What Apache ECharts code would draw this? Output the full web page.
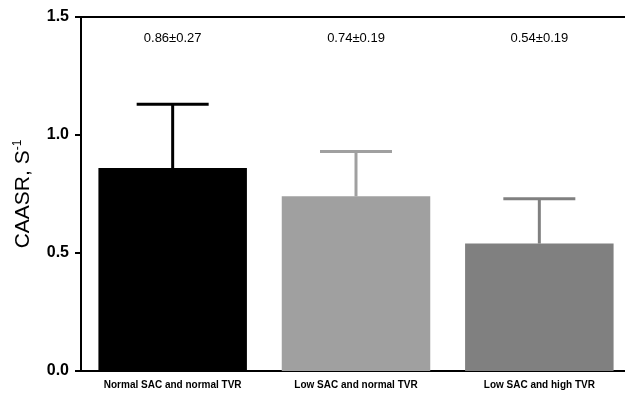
<!DOCTYPE html>
<html>
<head>
<meta charset="utf-8">
<script src="https://cdn.jsdelivr.net/npm/echarts@6/dist/echarts.min.js"></script>
<style>
html,body{margin:0;padding:0;background:#fff;}
#chart{width:625px;height:399px;}
</style>
</head>
<body>
<div id="chart"></div>
<script>
// 数据
var categories = ['Normal SAC and normal TVR', 'Low SAC and normal TVR', 'Low SAC and high TVR'];
var means = [0.86, 0.74, 0.54];
var sds = [0.27, 0.19, 0.19];
var labels = ['0.86±0.27', '0.74±0.19', '0.54±0.19'];
var barColors = ['#000000', '#a0a0a0', '#808080'];
var labelY = 1.41;

var myChart = echarts.init(document.getElementById('chart'));

var barData = means.map(function (v, i) {
  return { value: v, itemStyle: { color: barColors[i] } };
});
var errData = means.map(function (v, i) { return [i, v, v + sds[i]]; });
var textData = labels.map(function (t, i) { return [i, labelY, t]; });

var option = {
  animation: false,
  grid: { left: 81, right: -6, top: 17, bottom: 28, outerBoundsMode: 'none' },
  xAxis: [{
    type: 'category',
    data: categories,
    axisLine: { lineStyle: { color: '#000', width: 2 } },
    axisTick: { alignWithLabel: true, length: 5, lineStyle: { color: '#000', width: 2 } },
    axisLabel: { color: '#000', fontSize: 10, fontWeight: 'bold', fontFamily: 'Liberation Sans', margin: 9 }
  }, {
    type: 'category',
    position: 'top',
    data: categories,
    axisLine: { lineStyle: { color: '#000', width: 2 } },
    axisTick: { show: false },
    axisLabel: { show: false }
  }],
  yAxis: {
    type: 'value',
    min: 0, max: 1.5, interval: 0.5,
    name: '{a|CAASR, S}{b|-1}',
    nameLocation: 'middle',
    nameGap: 47,
    nameTextStyle: {
      rich: {
        a: { fontSize: 21, color: '#000', fontFamily: 'Liberation Sans' },
        b: { fontSize: 12, color: '#000', fontFamily: 'Liberation Sans', padding: [0, 0, 10, 0] }
      }
    },
    axisLine: { show: true, lineStyle: { color: '#000', width: 2 } },
    axisTick: { show: true, length: 6, lineStyle: { color: '#000', width: 2 } },
    splitLine: { show: false },
    axisLabel: {
      color: '#000', fontSize: 16, fontWeight: 'bold', fontFamily: 'Liberation Sans', margin: 12,
      formatter: function (v) { return v.toFixed(1); }
    }
  },
  series: [{
    type: 'bar',
    data: barData,
    barWidth: '81%'
  }, {
    type: 'custom',
    data: errData,
    z: 1,
    renderItem: function (params, api) {
      var i = api.value(0);
      var base = api.coord([i, api.value(1)]);
      var top = api.coord([i, api.value(2)]);
      var half = 36;
      var style = { stroke: barColors[i], lineWidth: 3 };
      return {
        type: 'group',
        children: [{
          type: 'line',
          shape: { x1: base[0], y1: base[1], x2: top[0], y2: top[1] },
          style: style
        }, {
          type: 'line',
          shape: { x1: top[0] - half, y1: top[1], x2: top[0] + half, y2: top[1] },
          style: style
        }]
      };
    }
  }, {
    type: 'custom',
    data: textData,
    renderItem: function (params, api) {
      var p = api.coord([api.value(0), api.value(1)]);
      return {
        type: 'text',
        x: p[0], y: p[1],
        style: {
          text: labels[params.dataIndex],
          fill: '#000',
          font: '13px "Liberation Sans"',
          align: 'center',
          verticalAlign: 'middle'
        }
      };
    }
  }]
};
myChart.setOption(option);
</script>
</body>
</html>
